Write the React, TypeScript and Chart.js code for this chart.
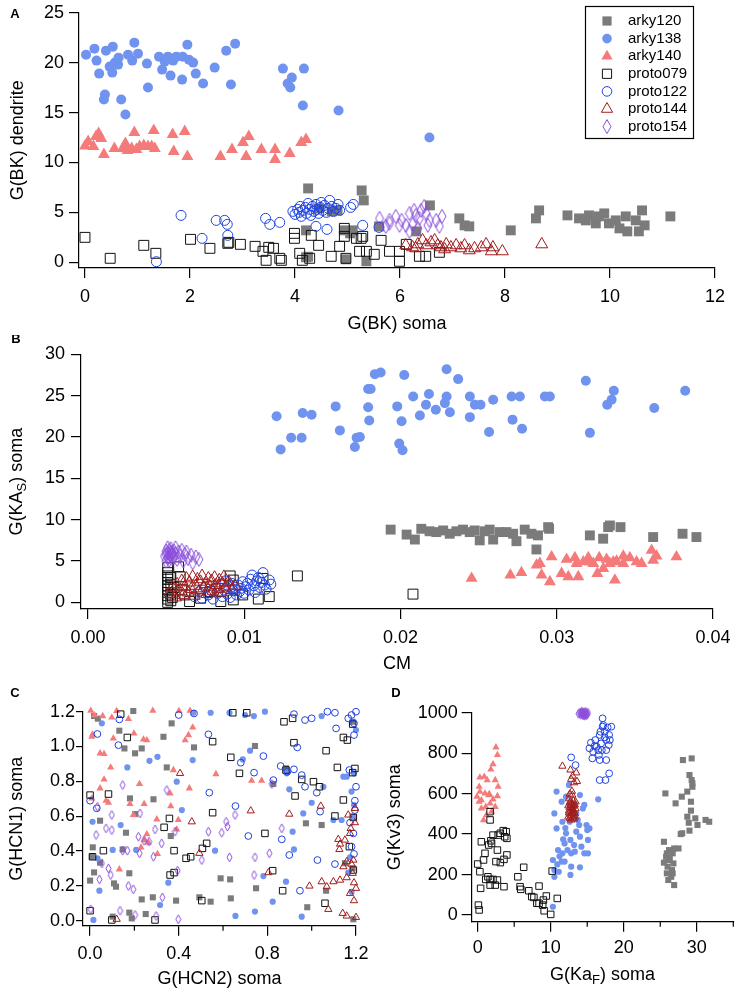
import React, { useEffect, useRef } from 'react';
import { Chart, registerables } from 'chart.js';

Chart.register(...registerables);

type Pt = [number, number];

const FONT = '"Liberation Sans", Arial, sans-serif';

const SERIES_NAMES = ['arky120', 'arky138', 'arky140', 'proto079', 'proto122', 'proto144', 'proto154'];

// ---------------- Panel A : G(BK) soma vs G(BK) dendrite ----------------
const A_X_TICKS = [0, 2, 4, 6, 8, 10, 12];
const A_Y_TICKS = [0, 5, 10, 15, 20, 25];

const A_arky120: Pt[] = [[4.25,7.4],[4.21,3.2],[4.21,0.5],[4.81,5.2],[4.94,3.2],[5.10,3.2],[5.27,7.2],[5.31,6.2],[5.36,0.1],[5.60,3.6],[6.31,3.1],[6.57,5.7],[7.13,4.4],[7.23,3.7],[7.32,3.6],[8.11,3.2],[8.59,4.4],[8.65,5.2],[9.19,4.7],[9.41,4.4],[9.54,4.2],[9.60,4.7],[9.73,3.9],[9.79,4.6],[9.89,4.9],[9.98,3.9],[10.11,4.2],[10.18,3.4],[10.30,4.6],[10.33,3.1],[10.49,4.2],[10.55,3.1],[10.61,5.2],[10.66,3.7],[11.15,4.6],[4.45,5.4],[4.70,5.1],[4.25,0.56],[4.97,0.3],[5.05,2.9]];
const A_arky138: Pt[] = [[0.02,20.8],[0.18,21.4],[0.22,20.2],[0.27,18.9],[0.40,21.2],[0.36,16.3],[0.38,16.8],[0.53,21.6],[0.47,19.6],[0.52,19.0],[0.57,20.0],[0.63,19.8],[0.69,16.3],[0.77,14.8],[0.64,20.5],[0.82,20.8],[0.90,20.2],[0.94,22.0],[1.01,20.9],[1.18,19.9],[1.20,17.5],[1.41,20.6],[1.47,19.3],[1.52,20.1],[1.58,20.6],[1.63,18.7],[1.68,20.2],[1.74,20.6],[1.85,18.3],[1.86,20.6],[1.95,21.8],[1.98,20.3],[2.06,20.0],[2.11,18.9],[2.25,17.9],[2.47,19.5],[2.69,21.2],[2.78,17.8],[2.86,21.9],[3.77,19.4],[3.86,17.9],[3.91,17.5],[3.94,18.5],[4.17,19.4],[4.15,15.7],[4.83,15.2],[6.56,12.5]];
const A_arky140: Pt[] = [[0.0,11.65],[0.06,12.1],[0.16,11.6],[0.21,12.6],[0.26,12.9],[0.31,12.4],[0.36,10.8],[0.56,11.4],[0.72,11.4],[0.77,11.9],[0.81,11.2],[0.89,11.4],[0.94,13.0],[0.98,11.3],[1.04,11.6],[1.12,11.7],[1.20,11.6],[1.27,11.6],[1.31,13.2],[1.33,11.4],[1.67,12.8],[1.69,11.1],[1.90,13.1],[1.95,10.6],[2.58,10.6],[2.80,11.3],[3.01,12.0],[3.07,10.6],[3.12,12.6],[3.36,11.3],[3.62,11.3],[3.62,10.3],[3.90,10.9],[4.12,12.0],[4.21,12.3]];
const A_proto079: Pt[] = [[0.0,2.5],[0.48,0.4],[1.12,1.7],[1.35,0.9],[2.01,2.3],[2.38,1.4],[2.74,2.0],[2.96,1.8],[3.24,1.6],[3.39,1.1],[3.45,0.2],[3.59,1.4],[3.71,0.4],[3.74,0.2],[3.99,2.9],[3.99,2.4],[4.09,0.9],[4.14,0.2],[4.28,0.4],[4.31,2.7],[4.45,1.7],[4.69,0.6],[4.85,1.6],[4.94,3.4],[4.94,2.6],[4.97,0.4],[5.17,2.4],[5.26,2.4],[5.23,1.1],[5.36,1.1],[5.29,2.6],[5.51,0.8],[5.64,2.2],[5.80,1.1],[5.99,0.1],[5.99,1.1],[6.12,1.8],[6.37,0.6],[6.49,0.6],[6.75,1.0],[2.72,1.9],[3.50,1.5]];
const A_proto122: Pt[] = [[1.36,0.06],[1.83,4.7],[2.23,2.4],[2.50,4.2],[2.66,4.2],[2.71,3.8],[2.72,2.7],[3.44,4.4],[3.52,3.8],[3.71,4.0],[4.40,3.6],[4.61,3.3],[5.06,5.5],[5.11,5.8],[5.29,3.7],[5.60,3.5],[3.96,5.1],[4.0,4.8],[4.05,5.3],[4.08,5.0],[4.1,5.6],[4.12,4.6],[4.15,5.2],[4.2,5.5],[4.22,4.9],[4.25,5.9],[4.28,5.3],[4.3,4.7],[4.33,5.6],[4.36,5.1],[4.4,5.8],[4.42,5.3],[4.45,4.9],[4.48,5.5],[4.5,6.0],[4.53,5.2],[4.56,5.7],[4.6,5.0],[4.63,5.4],[4.66,6.2],[4.7,5.6],[4.73,5.1],[4.78,5.4],[4.82,5.8],[4.85,5.2]];
const A_proto144: Pt[] = [[6.11,1.7],[6.24,1.5],[6.34,1.8],[6.43,2.2],[6.50,1.7],[6.59,2.0],[6.66,2.2],[6.72,1.7],[6.78,1.5],[6.88,1.8],[6.97,1.5],[7.07,1.7],[7.16,1.4],[7.23,1.7],[7.42,1.4],[7.55,1.5],[7.64,1.8],[7.77,1.5],[7.95,1.1],[8.70,1.8],[6.30,1.4],[6.85,1.3],[7.32,1.2],[7.74,1.1]];
const A_proto154: Pt[] = [[5.61,4.4],[5.73,3.6],[5.80,4.2],[5.92,4.6],[6.03,4.2],[6.18,4.9],[6.24,3.8],[6.30,4.7],[6.37,4.4],[6.40,5.2],[6.50,4.9],[6.56,4.2],[6.69,4.2],[6.75,3.6],[6.80,4.6],[6.18,3.1],[6.11,3.7],[5.99,3.7],[5.80,3.9],[6.27,5.2],[6.46,5.6],[6.34,3.4],[6.53,3.7]];

// ---------------- Panel B : CM vs G(KAs) soma ----------------
const B_X_TICKS = [0, 0.01, 0.02, 0.03, 0.04];
const B_Y_TICKS = [0, 5, 10, 15, 20, 25, 30];

const B_arky120: Pt[] = [[0.01937,8.8],[0.02039,8.2],[0.02092,7.6],[0.02133,8.9],[0.02186,8.6],[0.02229,8.5],[0.02273,8.7],[0.02315,8.3],[0.02358,8.6],[0.02400,8.8],[0.02443,8.5],[0.02475,8.7],[0.02507,7.5],[0.02539,8.6],[0.02571,8.8],[0.02593,7.6],[0.02635,8.5],[0.02678,8.5],[0.02721,8.3],[0.02742,7.4],[0.02795,8.8],[0.02838,8.3],[0.02880,8.1],[0.02870,6.4],[0.02945,9.1],[0.02951,8.9],[0.03212,8.1],[0.03297,7.7],[0.03329,9.1],[0.03340,9.3],[0.03408,9.1],[0.03617,7.9],[0.03805,8.3],[0.03894,7.9]];
const B_arky138: Pt[] = [[0.01207,22.5],[0.01233,18.5],[0.01300,19.9],[0.01367,19.9],[0.01374,22.9],[0.01431,22.7],[0.01585,23.7],[0.01612,20.8],[0.01708,18.8],[0.01719,19.9],[0.01793,25.8],[0.01793,23.6],[0.01800,22.0],[0.01836,27.6],[0.01873,27.8],[0.01809,25.8],[0.01740,20.0],[0.02024,27.5],[0.01979,23.7],[0.02007,21.9],[0.01992,19.2],[0.02013,18.4],[0.02081,24.9],[0.02182,25.2],[0.02163,23.9],[0.02124,22.6],[0.02226,23.3],[0.02295,28.2],[0.02369,27.0],[0.02295,24.9],[0.02284,24.1],[0.02316,23.0],[0.02444,24.9],[0.02444,22.4],[0.02476,23.9],[0.02512,23.9],[0.02593,24.5],[0.02567,20.6],[0.02711,24.9],[0.02764,24.9],[0.02717,22.1],[0.02778,21.0],[0.02924,24.9],[0.02956,24.9],[0.03186,26.8],[0.03212,20.5],[0.03365,25.6],[0.03351,24.5],[0.03323,23.9],[0.03624,23.5],[0.03822,25.6]];
const B_arky140: Pt[] = [[0.02455,2.9],[0.02703,3.3],[0.02774,3.6],[0.02892,4.7],[0.02903,3.3],[0.02956,2.5],[0.02967,5.5],[0.02871,4.5],[0.03031,3.5],[0.03063,5.2],[0.03074,3.1],[0.03116,5.4],[0.03138,3.1],[0.03127,4.7],[0.03170,4.9],[0.03202,5.4],[0.03234,4.7],[0.03260,3.5],[0.03272,5.4],[0.03298,4.1],[0.03319,5.2],[0.03340,4.7],[0.03372,2.7],[0.03383,5.0],[0.03426,5.6],[0.03426,4.7],[0.03468,5.4],[0.03511,4.9],[0.03543,4.7],[0.03607,6.3],[0.03617,5.1],[0.03639,5.6],[0.03766,5.5],[0.03212,4.9],[0.03362,4.9]];
const B_proto079: Pt[] = [[0.0051,0.0],[0.0051,0.4],[0.0051,0.8],[0.0051,1.2],[0.0051,1.6],[0.0051,2.0],[0.0051,2.4],[0.0051,2.8],[0.0051,3.2],[0.0051,3.6],[0.0051,4.2],[0.0053,0.2],[0.0053,1.0],[0.0053,2.2],[0.0053,3.0],[0.0054,0.6],[0.0055,1.8],[0.0058,4.3],[0.0059,3.1],[0.0060,1.5],[0.0062,0.9],[0.0065,0.1],[0.0072,0.5],[0.0078,1.3],[0.0085,0.1],[0.0091,3.2],[0.0093,2.7],[0.0093,0.3],[0.0099,0.9],[0.0109,0.4],[0.0112,2.9],[0.0116,0.7],[0.0134,3.2],[0.0208,1.0]];
const B_proto122: Pt[] = [[0.0068,0.7],[0.0071,1.3],[0.0073,0.5],[0.0075,1.8],[0.0077,0.9],[0.0079,1.4],[0.0080,0.4],[0.0082,1.9],[0.0083,1.1],[0.0085,2.2],[0.0086,0.7],[0.0087,1.5],[0.0088,2.6],[0.0089,1.0],[0.0090,1.9],[0.0091,0.6],[0.0092,2.3],[0.0093,1.4],[0.0094,1.8],[0.0095,0.9],[0.0096,2.1],[0.0097,1.3],[0.0098,1.7],[0.0099,2.5],[0.0100,1.1],[0.0101,1.9],[0.0102,2.3],[0.0103,1.5],[0.0104,2.8],[0.0105,3.3],[0.0106,2.0],[0.0107,1.2],[0.0108,2.6],[0.0109,3.0],[0.0110,1.8],[0.0111,2.4],[0.0112,3.6],[0.0113,2.1],[0.0114,1.6],[0.0116,2.7],[0.0117,2.2]];
const B_proto144: Pt[] = [[0.0052,1.0],[0.0054,1.8],[0.0056,0.6],[0.0057,2.2],[0.0058,1.4],[0.0060,2.6],[0.0061,0.9],[0.0062,1.9],[0.0063,2.9],[0.0064,1.2],[0.0065,2.4],[0.0066,1.6],[0.0067,3.1],[0.0068,0.8],[0.0069,2.0],[0.0070,2.8],[0.0071,1.3],[0.0072,2.5],[0.0073,3.2],[0.0074,1.7],[0.0075,2.2],[0.0076,1.0],[0.0077,2.9],[0.0078,1.9],[0.0079,2.6],[0.0080,1.4],[0.0081,3.0],[0.0082,2.1],[0.0083,1.6],[0.0084,2.7],[0.0085,1.2],[0.0086,2.3],[0.0087,3.1],[0.0088,1.8],[0.0090,2.5],[0.0092,1.5],[0.0094,2.0]];
const B_proto154: Pt[] = [[0.0049,5.6],[0.0050,6.2],[0.0050,5.0],[0.0051,6.6],[0.0051,5.4],[0.0052,5.9],[0.0052,6.3],[0.0052,5.1],[0.0053,5.7],[0.0053,6.5],[0.0054,5.3],[0.0054,6.0],[0.0055,6.2],[0.0055,5.5],[0.0056,5.9],[0.0056,6.6],[0.0057,5.2],[0.0058,6.1],[0.0059,5.6],[0.0060,6.3],[0.0061,5.0],[0.0062,5.8],[0.0063,6.1],[0.0064,5.3],[0.0066,5.7],[0.0067,4.8],[0.0069,5.5],[0.0071,5.2],[0.0050,5.8],[0.0051,6.0],[0.0053,6.1],[0.0054,5.8],[0.0052,5.5]];

// ---------------- Panel C : G(HCN2) soma vs G(HCN1) soma ----------------
const C_X_TICKS = [0, 0.4, 0.8, 1.2];
const C_X_MINOR = [0.2, 0.6, 1.0];
const C_Y_TICKS = [0, 0.2, 0.4, 0.6, 0.8, 1.0, 1.2];

const C_arky120: Pt[] = [[0.018,1.175],[0.035,1.16],[0.195,1.204],[0.132,1.091],[0.155,0.989],[0.203,0.961],[0.233,0.989],[0.331,1.056],[0.346,0.880],[0.368,1.133],[0.469,0.995],[0.744,1.003],[0.827,0.785],[0.884,0.875],[0.180,0.702],[0.203,0.612],[0.286,0.697],[0.045,0.574],[0.162,0.505],[0.012,0.421],[0.008,0.367],[0.045,0.333],[0.018,0.277],[0.0,0.230],[0.108,0.214],[0.117,0.195],[0.177,0.272],[0.147,0.409],[0.364,0.486],[0.388,0.115],[0.283,0.134],[0.233,0.122],[0.177,0.046],[0.188,0.013],[0.102,0.023],[0.251,0.038],[0.493,0.134],[0.544,0.109],[0.589,0.243],[0.632,0.237],[0.635,0.128],[0.749,0.186],[0.974,0.559],[1.045,0.549],[1.065,0.172],[0.980,0.077],[1.185,0.300],[1.188,0.008],[1.185,1.142],[1.150,0.330]];
const C_arky138: Pt[] = [[0.053,1.133],[0.015,0.004],[0.011,0.568],[0.033,0.358],[0.042,0.172],[0.102,0.406],[0.138,0.549],[0.168,0.880],[0.208,0.406],[0.268,0.918],[0.304,0.941],[0.316,0.090],[0.353,0.218],[0.391,0.798],[0.414,0.635],[0.463,0.922],[0.466,1.194],[0.544,1.194],[0.564,0.402],[0.629,1.194],[0.689,0.926],[0.699,1.181],[0.739,1.175],[0.722,0.976],[0.789,1.200],[0.656,0.027],[0.744,0.052],[0.782,0.256],[0.824,0.109],[0.884,0.224],[0.914,0.511],[0.920,0.409],[0.887,0.846],[0.899,0.754],[0.955,0.023],[0.962,0.616],[1.000,0.677],[1.045,1.175],[1.053,0.769],[1.098,0.578],[1.143,0.827],[1.158,0.827],[1.180,0.741],[1.165,0.276],[1.173,0.364],[1.180,0.166],[1.191,0.664],[1.200,1.095],[1.135,0.578],[1.188,0.597],[1.190,0.846]];
const C_arky140: Pt[] = [[0.003,1.206],[0.020,1.180],[0.057,1.175],[0.098,1.167],[0.120,1.204],[0.173,1.158],[0.283,1.206],[0.401,1.204],[0.451,1.206],[0.008,1.056],[0.011,1.070],[0.105,1.047],[0.198,1.075],[0.241,1.041],[0.256,1.037],[0.429,1.037],[0.444,1.066],[0.463,1.110],[0.045,0.961],[0.063,0.957],[0.093,0.880],[0.063,0.811],[0.045,0.760],[0.008,0.702],[0.072,0.689],[0.083,0.677],[0.180,0.670],[0.223,0.785],[0.244,0.670],[0.195,0.607],[0.301,0.582],[0.256,0.497],[0.244,0.463],[0.263,0.448],[0.304,0.383],[0.230,0.421],[0.361,0.731],[0.364,0.658],[0.376,0.865],[0.398,0.578],[0.391,0.524],[0.448,0.760],[0.568,0.842],[0.729,0.804],[0.774,0.804],[0.132,0.295]];
const C_proto079: Pt[] = [[0.0,0.721],[0.0,0.057],[0.011,0.367],[0.060,0.402],[0.083,0.727],[0.098,0.004],[0.138,1.186],[0.168,1.052],[0.293,0.004],[0.334,0.536],[0.358,0.587],[0.361,0.262],[0.379,0.402],[0.379,0.276],[0.433,0.358],[0.454,0.367],[0.504,0.115],[0.507,0.415],[0.526,0.444],[0.553,1.028],[0.553,0.620],[0.644,1.194],[0.635,0.938],[0.674,0.846],[0.707,1.194],[0.789,0.501],[0.824,0.287],[0.869,0.172],[0.875,1.142],[0.884,0.865],[0.914,1.162],[0.920,1.022],[0.925,0.716],[0.955,0.811],[1.008,0.798],[1.035,0.769],[1.065,0.976],[1.060,0.100],[1.116,0.880],[1.143,1.052],[1.161,1.037],[1.143,0.693],[1.170,0.425],[1.185,1.129],[1.185,0.850],[1.188,0.593],[1.195,0.874],[1.188,0.291],[1.105,0.601]];
const C_proto122: Pt[] = [[0.0,0.689],[0.030,0.645],[0.033,1.072],[0.128,1.008],[0.132,1.156],[0.400,1.181],[0.469,1.190],[0.534,1.070],[0.538,0.735],[0.680,0.907],[0.656,0.658],[0.714,0.486],[0.740,0.850],[0.782,0.945],[0.827,0.807],[0.860,0.888],[0.865,0.467],[0.890,0.855],[0.899,0.377],[0.920,1.186],[0.920,0.869],[0.935,0.995],[0.947,0.172],[0.955,0.836],[0.970,0.769],[0.970,1.152],[1.000,1.162],[1.023,0.735],[1.026,0.348],[1.038,0.626],[1.071,1.200],[1.105,1.194],[1.110,1.104],[1.105,0.325],[1.165,1.162],[1.180,1.181],[1.191,1.133],[1.200,1.200],[1.191,1.066],[1.200,0.769],[1.195,0.689],[1.195,0.635],[1.188,0.501],[1.191,0.383],[1.173,0.563],[1.170,0.865],[1.180,0.425]];
const C_proto144: Pt[] = [[0.120,0.008],[0.406,0.846],[0.459,0.568],[0.493,0.387],[0.725,0.631],[0.805,0.276],[0.899,0.612],[0.990,0.199],[1.041,0.658],[1.045,0.224],[1.068,0.195],[1.075,0.065],[1.098,0.224],[1.128,0.233],[1.120,0.467],[1.128,0.440],[1.125,0.409],[1.140,0.042],[1.158,0.027],[1.173,0.157],[1.158,0.339],[1.180,0.325],[1.173,0.501],[1.176,0.530],[1.195,0.563],[1.188,0.348],[1.185,0.272],[1.191,0.218],[1.200,0.186],[1.191,0.115],[1.200,0.019],[1.158,0.247],[1.143,0.310],[1.165,0.607],[1.195,0.645],[1.150,0.463]];
const C_proto154: Pt[] = [[0.003,0.065],[0.033,0.654],[0.027,0.492],[0.042,0.237],[0.053,0.329],[0.072,0.530],[0.083,0.300],[0.098,0.520],[0.093,0.262],[0.098,0.607],[0.135,0.057],[0.147,0.779],[0.147,0.402],[0.168,0.402],[0.173,0.199],[0.195,0.180],[0.203,0.033],[0.218,0.482],[0.223,0.387],[0.225,0.616],[0.244,0.459],[0.266,0.454],[0.286,0.367],[0.293,0.524],[0.298,0.027],[0.323,0.444],[0.326,0.134],[0.346,0.750],[0.383,0.511],[0.395,0.287],[0.398,0.008],[0.504,0.348],[0.534,0.511],[0.594,0.505],[0.614,0.568],[0.620,0.540],[0.654,0.607],[0.629,0.364],[0.744,0.364],[0.740,0.262],[0.809,0.387],[0.865,0.530],[0.820,0.785]];

// ---------------- Panel D : G(KaF) soma vs G(Kv3) soma ----------------
const D_X_TICKS = [0, 10, 20, 30];
const D_X_MINOR = [5, 15, 25, 35];
const D_Y_TICKS = [0, 200, 400, 600, 800, 1000];

const D_arky120: Pt[] = [[28.1,766],[29.3,774],[29.0,692],[29.3,667],[29.4,651],[29.4,634],[28.7,610],[27.95,585],[27.1,552],[29.2,560],[25.7,601],[29.2,516],[28.7,486],[29.8,478],[30.1,445],[31.2,470],[31.7,461],[28.9,456],[28.0,404],[29.0,417],[27.8,400],[25.5,362],[26.9,329],[27.5,329],[26.2,321],[25.8,288],[26.2,272],[26.7,305],[25.5,259],[26.0,239],[26.6,222],[25.9,206],[26.5,189],[26.1,173],[26.9,148],[26.7,206],[26.3,280],[26.8,255],[25.9,305]];
const D_arky138: Pt[] = [[10.8,610],[11.5,560],[12.6,461],[13.3,544],[14.0,593],[14.6,544],[16.5,572],[12.5,643],[12.1,585],[10.5,502],[10.8,428],[11.6,461],[12.1,404],[12.7,371],[13.5,412],[14.0,387],[14.9,445],[15.3,428],[15.1,371],[14.2,338],[14.6,305],[15.1,305],[11.0,321],[11.6,305],[10.3,272],[10.5,222],[11.5,264],[11.9,264],[12.8,239],[14.0,236],[12.7,198],[10.5,189],[11.1,214],[10.3,41],[13.2,346],[13.3,313],[11.9,354],[13.5,502],[13.0,519],[11.7,374],[13.9,445],[14.4,527],[12.8,305],[12.3,321],[11.2,290],[10.9,250],[12.0,430],[15.0,420],[13.7,470]];
const D_arky140: Pt[] = [[2.5,829],[2.7,791],[2.1,746],[1.8,720],[0.9,684],[0.3,680],[1.3,667],[2.4,667],[2.8,634],[0.3,610],[1.0,601],[-0.1,585],[0.5,568],[1.5,593],[2.1,572],[2.7,588],[1.7,552],[1.1,535],[0.5,527],[2.4,535],[0.2,560],[1.9,511],[1.2,494],[0.8,469],[1.6,598],[0.2,634]];
const D_proto079: Pt[] = [[0.1,49],[0.2,25],[0.0,252],[0.3,214],[0.4,132],[0.8,272],[1.0,305],[0.5,362],[1.1,176],[1.4,189],[1.7,176],[2.1,176],[2.4,148],[1.7,148],[1.9,354],[2.1,395],[1.8,367],[1.5,346],[2.7,321],[2.5,264],[3.1,259],[3.6,275],[2.8,395],[3.1,404],[3.5,417],[3.9,412],[4.0,379],[3.7,387],[4.0,297],[2.7,173],[1.7,511],[1.7,470],[3.6,140],[5.5,189],[5.8,140],[6.3,236],[5.9,127],[7.0,120],[7.4,91],[8.4,143],[7.7,87],[8.4,58],[8.1,58],[8.9,49],[9.4,94],[9.1,21],[10.0,3],[10.9,82],[10.2,217],[9.0,74]];
const D_proto122: Pt[] = [[12.8,779],[13.4,741],[15.5,852],[15.3,824],[15.8,807],[16.1,865],[16.3,832],[16.6,791],[16.7,890],[16.9,848],[17.1,972],[17.2,939],[17.4,906],[17.6,865],[17.6,815],[17.8,927],[18.0,890],[18.1,865],[18.3,931],[17.95,840],[16.7,766],[17.6,766],[16.7,667],[17.5,667],[18.0,700],[15.7,774],[17.0,815],[16.5,815],[16.0,835],[17.4,878],[16.8,906],[17.1,931]];
const D_proto144: Pt[] = [[11.6,736],[12.7,717],[13.5,703],[13.0,687],[12.8,671],[13.2,654],[13.6,660],[12.6,598],[12.95,593],[12.5,575],[12.7,560],[12.9,550],[13.1,565],[13.3,545],[12.4,540],[12.6,530],[12.8,520],[13.0,535],[13.2,510],[13.4,525],[12.5,505],[12.7,495],[12.9,505],[13.1,490],[13.3,500],[12.4,485],[12.6,478],[12.8,470],[13.0,480],[13.2,475],[12.5,515],[12.9,528],[13.1,518],[13.3,485],[12.7,545],[13.0,505],[12.8,490],[12.6,555],[13.2,540],[13.4,560],[12.9,612]];
const D_proto154: Pt[] = [[13.8,995],[14.0,1000],[14.1,990],[14.2,1003],[14.3,995],[14.4,988],[14.5,1000],[14.6,993],[14.7,1004],[14.8,990],[14.9,998],[15.0,993],[15.1,1000],[14.3,1005],[14.6,985],[14.4,998],[14.8,1002],[14.1,997],[14.5,990],[14.9,988]];

// ---------------- styles ----------------
type Shape = 'rect' | 'circle' | 'triangle' | 'diamond';
type Style = { shape: Shape; filled: boolean; color: string };
const STYLES: Style[] = [
  { shape: 'rect', filled: true, color: '#7b7b7b' },
  { shape: 'circle', filled: true, color: '#6f93ef' },
  { shape: 'triangle', filled: true, color: '#f57b7b' },
  { shape: 'rect', filled: false, color: '#111111' },
  { shape: 'circle', filled: false, color: '#1f42e0' },
  { shape: 'triangle', filled: false, color: '#a11c1c' },
  { shape: 'diamond', filled: false, color: '#8b4fdc' },
];

function makeDiamond(color: string, w: number, h: number): HTMLCanvasElement {
  const c = document.createElement('canvas');
  c.width = Math.ceil(w + 2);
  c.height = Math.ceil(h + 2);
  const g = c.getContext('2d')!;
  const cx = c.width / 2, cy = c.height / 2;
  g.strokeStyle = color;
  g.lineWidth = 1;
  g.beginPath();
  g.moveTo(cx, cy - h / 2);
  g.lineTo(cx + w / 2, cy);
  g.lineTo(cx, cy + h / 2);
  g.lineTo(cx - w / 2, cy);
  g.closePath();
  g.stroke();
  return c;
}

function buildDatasets(series: Pt[][], big: boolean) {
  return series.map((pts, i) => {
    const st = STYLES[i];
    let radius = 5;
    let pointStyle: any = st.shape;
    if (st.shape === 'rect') radius = big ? 7.0 : (st.filled ? 4.3 : 4.6);
    if (st.shape === 'circle') radius = big ? 5 : (st.filled ? 3.1 : 3.4);
    if (st.shape === 'triangle') radius = big ? 6.9 : 4.2;
    if (st.shape === 'diamond') {
      pointStyle = big ? makeDiamond(st.color, 8, 14) : makeDiamond(st.color, 5, 9);
      radius = big ? 6 : 4;
    }
    return {
      label: SERIES_NAMES[i],
      data: pts.map(([x, y]) => ({ x, y })),
      pointStyle,
      pointRadius: radius,
      pointBackgroundColor: st.filled ? st.color : 'rgba(0,0,0,0)',
      pointBorderColor: st.color,
      pointBorderWidth: st.filled ? 0 : 1,
      showLine: false,
      clip: false,
      order: -i,
    };
  });
}

function drawMarker(ctx: CanvasRenderingContext2D, st: Style, x: number, y: number) {
  ctx.save();
  ctx.lineWidth = 1;
  ctx.strokeStyle = st.color;
  ctx.fillStyle = st.color;
  ctx.beginPath();
  if (st.shape === 'rect') {
    ctx.rect(x - 4.6, y - 4.6, 9.2, 9.2);
  } else if (st.shape === 'circle') {
    ctx.arc(x, y, 4.8, 0, Math.PI * 2);
  } else if (st.shape === 'triangle') {
    const r = 6.5;
    ctx.moveTo(x, y - r);
    ctx.lineTo(x + r * 0.866, y + r / 2);
    ctx.lineTo(x - r * 0.866, y + r / 2);
    ctx.closePath();
  } else {
    ctx.moveTo(x, y - 7);
    ctx.lineTo(x + 4, y);
    ctx.lineTo(x, y + 7);
    ctx.lineTo(x - 4, y);
    ctx.closePath();
  }
  if (st.filled) ctx.fill(); else ctx.stroke();
  ctx.restore();
}

type Seg = [string, boolean];

function drawRich(ctx: CanvasRenderingContext2D, segs: Seg[], cx: number, cy: number) {
  const main = `18px ${FONT}`;
  const sub = `13px ${FONT}`;
  let total = 0;
  for (const [t, s] of segs) {
    ctx.font = s ? sub : main;
    total += ctx.measureText(t).width;
  }
  let x = cx - total / 2;
  ctx.textAlign = 'left';
  ctx.textBaseline = 'alphabetic';
  for (const [t, s] of segs) {
    ctx.font = s ? sub : main;
    ctx.fillText(t, x, cy + 6.5 + (s ? 4.5 : 0));
    x += ctx.measureText(t).width;
  }
}

const decorPlugin = {
  id: 'decor',
  afterDraw(chart: any, _args: any, o: any) {
    const ctx: CanvasRenderingContext2D = chart.ctx;
    const ca = chart.chartArea;
    ctx.save();
    ctx.fillStyle = '#000';
    ctx.strokeStyle = '#000';
    if (o.minorX) {
      const s = chart.scales.x;
      ctx.lineWidth = 1.2;
      for (const v of o.minorX) {
        const p = s.getPixelForValue(v);
        ctx.beginPath();
        ctx.moveTo(p, ca.bottom);
        ctx.lineTo(p, ca.bottom + o.minorLen);
        ctx.stroke();
      }
    }
    ctx.font = `bold 13px ${FONT}`;
    ctx.textAlign = 'center';
    ctx.textBaseline = 'middle';
    ctx.fillText(o.letter, o.letterX, o.letterY);
    drawRich(ctx, o.xTitle, (ca.left + ca.right) / 2, o.xTitleY);
    ctx.save();
    ctx.translate(o.yTitleX, (ca.top + ca.bottom) / 2);
    ctx.rotate(-Math.PI / 2);
    drawRich(ctx, o.yTitle, 0, 0);
    ctx.restore();
    if (o.legend) {
      const L = o.legend;
      ctx.lineWidth = 1.2;
      ctx.strokeStyle = '#000';
      ctx.fillStyle = '#fff';
      ctx.fillRect(L.x, L.y, L.w, L.h);
      ctx.strokeRect(L.x, L.y, L.w, L.h);
      ctx.font = `15px ${FONT}`;
      ctx.textAlign = 'left';
      ctx.textBaseline = 'middle';
      SERIES_NAMES.forEach((name, i) => {
        const yy = L.row0 + i * L.rowH;
        drawMarker(ctx, STYLES[i], L.markerX, yy);
        ctx.fillStyle = '#000';
        ctx.fillText(name, L.textX, yy);
      });
    }
    ctx.restore();
  },
};

function axis(isX: boolean, min: number, max: number, ticks: number[], dec: number, size: number, tickLen: number, pad: number) {
  return {
    type: 'linear',
    position: isX ? 'bottom' : 'left',
    min,
    max,
    bounds: 'data',
    afterBuildTicks: (s: any) => {
      s.ticks = ticks.map((v) => ({ value: v }));
    },
    afterFit: (s: any) => {
      if (isX) s.height = size; else s.width = size;
      s.paddingLeft = 0;
      s.paddingRight = 0;
      s.paddingTop = 0;
      s.paddingBottom = 0;
    },
    ticks: {
      padding: pad,
      color: '#000',
      font: { size: 18, family: FONT },
      autoSkip: false,
      maxRotation: 0,
      minRotation: 0,
      callback: (v: any) => Number(v).toFixed(dec),
    },
    grid: {
      display: true,
      drawOnChartArea: false,
      drawTicks: true,
      tickLength: tickLen,
      color: '#000',
      lineWidth: 1.2,
    },
    border: { display: true, color: '#000', width: 1.2 },
  };
}

function panelConfig(p: any) {
  return {
    type: 'scatter',
    data: { datasets: buildDatasets(p.series, p.big) },
    options: {
      responsive: false,
      animation: false,
      events: [],
      layout: { autoPadding: false, padding: { left: 0, top: p.padTop, right: p.padRight, bottom: 0 } },
      plugins: {
        legend: { display: false },
        tooltip: { enabled: false },
        decor: p.decor,
      },
      scales: {
        x: axis(true, p.xMin, p.xMax, p.xTicks, p.xDec, p.xSize, p.xTickLen, p.xPad),
        y: axis(false, p.yMin, p.yMax, p.yTicks, p.yDec, p.ySize, p.yTickLen, p.yPad),
      },
    },
    plugins: [decorPlugin],
  };
}

export default function App() {
  const refA = useRef<HTMLCanvasElement>(null);
  const refB = useRef<HTMLCanvasElement>(null);
  const refC = useRef<HTMLCanvasElement>(null);
  const refD = useRef<HTMLCanvasElement>(null);

  useEffect(() => {
    Chart.defaults.font.family = FONT;
    Chart.defaults.color = '#000';

    const cfgA = panelConfig({
      series: [A_arky120, A_arky138, A_arky140, A_proto079, A_proto122, A_proto144, A_proto154],
      big: true,
      padTop: 12.7, padRight: 22,
      xMin: -0.114, xMax: 12, xTicks: A_X_TICKS, xDec: 0, xSize: 67, xTickLen: 10, xPad: 8,
      yMin: -0.57, yMax: 25, yTicks: A_Y_TICKS, yDec: 0, ySize: 79, yTickLen: 10, yPad: 5,
      decor: {
        letter: 'A', letterX: 15, letterY: 14,
        xTitle: [['G(BK) soma', false]], xTitleY: 322,
        yTitle: [['G(BK) dendrite', false]], yTitleX: 16,
        legend: { x: 585.5, y: 6.5, w: 108, h: 132, markerX: 607, textX: 628, row0: 21, rowH: 17.6 },
      },
    });
    const cfgB = panelConfig({
      series: [B_arky120, B_arky138, B_arky140, B_proto079, B_proto122, B_proto144, B_proto154],
      big: true,
      padTop: 19.3, padRight: 24,
      xMin: -0.000448, xMax: 0.04, xTicks: B_X_TICKS, xDec: 2, xSize: 66, xTickLen: 10, xPad: 8,
      yMin: -0.8, yMax: 30, yTicks: B_Y_TICKS, yDec: 0, ySize: 81, yTickLen: 10, yPad: 6,
      decor: {
        letter: 'B', letterX: 16, letterY: 4,
        xTitle: [['CM', false]], xTitleY: 327,
        yTitle: [['G(KA', false], ['S', true], [') soma', false]], yTitleX: 15,
      },
    });
    const cfgC = panelConfig({
      series: [C_arky120, C_arky138, C_arky140, C_proto079, C_proto122, C_proto144, C_proto154],
      big: false,
      padTop: 36.7, padRight: 14,
      xMin: -0.032, xMax: 1.2, xTicks: C_X_TICKS, xDec: 1, xSize: 66.3, xTickLen: 10, xPad: 8,
      yMin: -0.029, yMax: 1.2, yTicks: C_Y_TICKS, yDec: 1, ySize: 83, yTickLen: 7, yPad: 1,
      decor: {
        letter: 'C', letterX: 15, letterY: 18,
        xTitle: [['G(HCN2) soma', false]], xTitleY: 302,
        yTitle: [['G(HCN1) soma', false]], yTitleX: 15,
        minorX: C_X_MINOR, minorLen: 5,
      },
    });
    const cfgD = panelConfig({
      series: [D_arky120, D_arky138, D_arky140, D_proto079, D_proto122, D_proto144, D_proto154],
      big: false,
      padTop: 37.7, padRight: 3.7,
      xMin: -0.82, xMax: 35, xTicks: D_X_TICKS, xDec: 0, xSize: 70.3, xTickLen: 10, xPad: 6,
      yMin: -33, yMax: 1000, yTicks: D_Y_TICKS, yDec: 0, ySize: 101.7, yTickLen: 10, yPad: 4,
      decor: {
        letter: 'D', letterX: 26, letterY: 18,
        xTitle: [['G(Ka', false], ['F', true], [') soma', false]], xTitleY: 298,
        yTitle: [['G(Kv3) soma', false]], yTitleX: 23,
        minorX: D_X_MINOR, minorLen: 5,
      },
    });

    const charts = [
      new Chart(refA.current!, cfgA as any),
      new Chart(refB.current!, cfgB as any),
      new Chart(refC.current!, cfgC as any),
      new Chart(refD.current!, cfgD as any),
    ];
    return () => charts.forEach((c) => c.destroy());
  }, []);

  const cv = (left: number, top: number, w: number, h: number): React.CSSProperties => ({
    position: 'absolute', left, top, width: w, height: h,
  });

  return (
    <div style={{ position: 'absolute', left: 0, top: 0, width: 737, height: 992, background: '#fff', overflow: 'hidden' }}>
      <canvas ref={refA} width={737} height={335} style={cv(0, 0, 737, 335)} />
      <canvas ref={refB} width={737} height={340} style={cv(0, 335, 737, 340)} />
      <canvas ref={refC} width={370} height={317} style={cv(0, 675, 370, 317)} />
      <canvas ref={refD} width={367} height={317} style={cv(370, 675, 367, 317)} />
    </div>
  );
}
